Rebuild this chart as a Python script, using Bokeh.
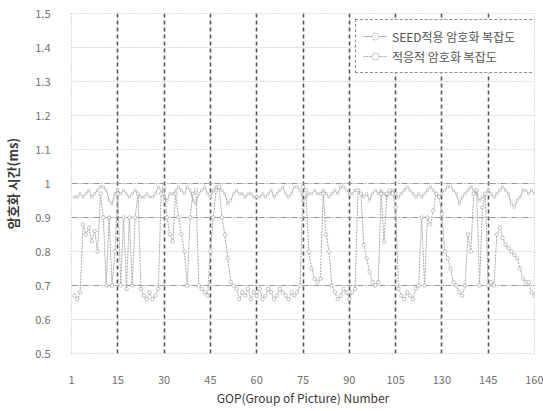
from bokeh.plotting import figure
from bokeh.models import (ColumnDataSource, FixedTicker, Grid, Legend, LegendItem, Range1d)
from bokeh.embed import file_html
from bokeh.resources import INLINE

# ---------------- data ----------------
gop = list(range(1, 161))

seed_complexity = [
    0.96, 0.96, 0.97, 0.96, 0.97, 0.98, 0.96, 0.97, 0.98, 0.99,
    0.99, 0.98, 0.95, 0.94, 0.97, 0.98, 0.97, 0.98, 0.97, 0.96,
    0.97, 0.98, 0.97, 0.96, 0.96, 0.97, 0.96, 0.96, 0.97, 0.99,
    0.98, 0.96, 0.95, 0.97, 0.97, 0.98, 0.99, 0.98, 0.97, 0.99,
    0.98, 0.95, 0.94, 0.97, 0.98, 0.99, 0.97, 0.96, 0.98, 0.99,
    0.99, 0.98, 0.97, 0.94, 0.95, 0.97, 0.98, 0.97, 0.97, 0.96,
    0.97, 0.97, 0.96, 0.96, 0.96, 0.97, 0.96, 0.97, 0.98, 0.96,
    0.97, 0.98, 0.99, 0.97, 0.96, 0.97, 0.99, 0.99, 0.98, 0.95,
    0.96, 0.97, 0.97, 0.98, 0.97, 0.97, 0.98, 0.97, 0.96, 0.97,
    0.98, 0.97, 0.99, 0.99, 0.98, 0.97, 0.97, 0.98, 0.98, 0.97,
    0.96, 0.97, 0.95, 0.97, 0.98, 0.97, 0.98, 0.97, 0.96, 0.97,
    0.98, 0.97, 0.96, 0.97, 0.98, 0.99, 0.98, 0.97, 0.96, 0.97,
    0.96, 0.97, 0.98, 0.99, 0.98, 0.97, 0.96, 0.97, 0.98, 0.99,
    0.99, 0.98, 0.97, 0.94, 0.96, 0.97, 0.98, 0.99, 0.98, 0.97,
    0.95, 0.96, 0.97, 0.98, 0.97, 0.96, 0.97, 0.98, 0.99, 0.98,
    0.97, 0.94, 0.93, 0.95, 0.96, 0.98, 0.98, 0.97, 0.98, 0.97,
]

adaptive_complexity = [
    0.67, 0.66, 0.68, 0.88, 0.85, 0.87, 0.83, 0.86, 0.80, 0.97,
    0.90, 0.70, 0.90, 0.70, 0.80, 0.97, 0.70, 0.90, 0.69, 0.90,
    0.70, 0.90, 0.97, 0.69, 0.67, 0.66, 0.68, 0.66, 0.67, 0.69,
    0.97, 0.99, 0.90, 0.85, 0.83, 0.97, 0.90, 0.85, 0.80, 0.70,
    0.90, 0.97, 0.98, 0.70, 0.69, 0.68, 0.67, 0.80, 0.90, 0.98,
    0.99, 0.90, 0.85, 0.78, 0.71, 0.70, 0.69, 0.66, 0.68, 0.67,
    0.69, 0.66, 0.68, 0.67, 0.69, 0.66, 0.67, 0.69, 0.68, 0.66,
    0.67, 0.69, 0.68, 0.67, 0.66, 0.68, 0.67, 0.68, 0.70, 0.99,
    0.98, 0.80, 0.75, 0.72, 0.71, 0.72, 0.97, 0.85, 0.80, 0.70,
    0.68, 0.66, 0.67, 0.69, 0.68, 0.66, 0.68, 0.69, 0.98, 0.97,
    0.82, 0.78, 0.74, 0.71, 0.70, 0.71, 0.97, 0.83, 0.97, 0.98,
    0.97, 0.93, 0.69, 0.67, 0.66, 0.68, 0.67, 0.66, 0.69, 0.70,
    0.90, 0.70, 0.90, 0.88, 0.92, 0.97, 0.96, 0.91, 0.80, 0.78,
    0.75, 0.71, 0.70, 0.68, 0.67, 0.70, 0.85, 0.80, 0.97, 0.98,
    0.70, 0.93, 0.97, 0.70, 0.71, 0.70, 0.85, 0.87, 0.84, 0.82,
    0.81, 0.80, 0.79, 0.78, 0.75, 0.72, 0.71, 0.71, 0.68, 0.67,
]

x_tick_values = [0, 16, 32, 48, 64, 80, 96, 112, 128, 144, 160]
x_tick_labels = ["1", "15", "30", "45", "60", "75", "90", "105", "130", "145", "160"]
x_grid_values = [16, 32, 48, 64, 80, 96, 112, 128, 144, 160]
y_tick_values = [0.5, 0.6, 0.7, 0.8, 0.9, 1.0, 1.1, 1.2, 1.3, 1.4, 1.5]
y_tick_labels = ["0.5", "0.6", "0.7", "0.8", "0.9", "1", "1.1", "1.2", "1.3", "1.4", "1.5"]
y_strong_grid = [0.7, 0.9, 1.0]

series_names = ["SEED적용 암호화 복잡도", "적응적 암호화 복잡도"]
x_title = "GOP(Group of Picture) Number"
y_title = "암호화 시간(ms)"

# ---------------- figure ----------------
FONT = "Noto Sans CJK KR"

p = figure(width=543, height=411, output_backend="svg", toolbar_location=None,
           x_range=Range1d(0, 160), y_range=Range1d(0.5, 1.5),
           min_border_left=64, min_border_right=9, min_border_top=13, min_border_bottom=58)
p.background_fill_color = "white"
p.border_fill_color = "white"
p.outline_line_color = "#bdbdbd"
p.outline_line_dash = "1 2"

src = ColumnDataSource(dict(gop=gop, seed=seed_complexity, adaptive=adaptive_complexity))

r1 = p.line("gop", "seed", source=src, line_color="#b0b0b0", line_width=1)
m1 = p.scatter("gop", "seed", source=src, marker="circle", size=2.5,
               line_color="#a8a8a8", fill_color="white", line_width=0.6)
r2 = p.line("gop", "adaptive", source=src, line_color="#a8a8a8", line_width=1, line_dash="2 1")
m2 = p.scatter("gop", "adaptive", source=src, marker="circle", size=3.5,
               line_color="#9a9a9a", fill_color="white", line_width=0.6)

# axes
for ax in (p.xaxis[0], p.yaxis[0]):
    ax.axis_line_color = None
    ax.major_tick_line_color = None
    ax.minor_tick_line_color = None
    ax.major_label_text_font = FONT
    ax.major_label_text_font_size = "11px"
    ax.major_label_text_color = "#707070"
    ax.axis_label_text_font = FONT
    ax.axis_label_text_font_style = "normal"
    ax.axis_label_text_color = "#3a3a3a"

p.xaxis.ticker = FixedTicker(ticks=x_tick_values)
p.xaxis.major_label_overrides = {v: l for v, l in zip(x_tick_values, x_tick_labels)}
p.xaxis.major_label_standoff = 16
p.xaxis.axis_label = x_title
p.xaxis.axis_label_text_font_size = "12px"
p.xaxis.axis_label_standoff = 2

p.yaxis.ticker = FixedTicker(ticks=y_tick_values)
p.yaxis.major_label_overrides = {v: l for v, l in zip(y_tick_values, y_tick_labels)}
p.yaxis.major_label_standoff = 15
p.yaxis.axis_label = y_title
p.yaxis.axis_label_text_font_size = "13px"
p.yaxis.axis_label_text_font_style = "bold"
p.yaxis.axis_label_standoff = 10

# grids
p.xgrid.ticker = FixedTicker(ticks=x_grid_values)
p.xgrid.grid_line_color = "#555555"
p.xgrid.grid_line_dash = "4 3"
p.xgrid.grid_line_width = 1.6

p.ygrid.ticker = FixedTicker(ticks=y_tick_values)
p.ygrid.grid_line_color = "#bbbbbb"
p.ygrid.grid_line_dash = "1 2"
p.ygrid.grid_line_width = 1

strong = Grid(dimension=1, ticker=FixedTicker(ticks=y_strong_grid),
              grid_line_color="#9a9a9a", grid_line_dash="6 2 1 2", grid_line_width=1)
p.add_layout(strong)

legend = Legend(items=[LegendItem(label=series_names[0], renderers=[r1, m1]),
                       LegendItem(label=series_names[1], renderers=[r2, m2])],
                location=(284, 280))
legend.border_line_color = "#222222"
legend.border_line_dash = "2 1"
legend.border_line_width = 1.5
legend.background_fill_color = "white"
legend.background_fill_alpha = 1
legend.label_text_font = FONT
legend.label_text_font_size = "12px"
legend.label_text_color = "#555555"
legend.glyph_width = 24
legend.glyph_height = 18
legend.label_height = 18
legend.label_width = 142
legend.spacing = 2
legend.padding = 7
legend.margin = 0
legend.label_standoff = 5
p.add_layout(legend)

open("out.html", "w").write(file_html(p, INLINE))
